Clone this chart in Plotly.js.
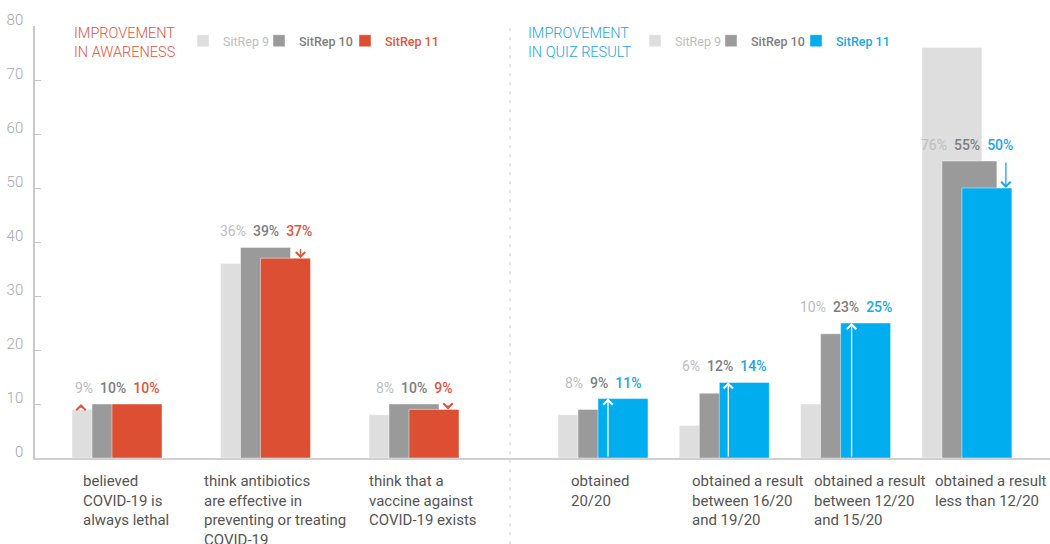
<!DOCTYPE html>
<html>
<head>
<meta charset="utf-8">
<script src="https://cdn.plot.ly/plotly-3.0.1.min.js"></script>
<style>
  html, body { margin: 0; padding: 0; background: #ffffff; }
  #chart { width: 1050px; height: 544px; }
</style>
</head>
<body>
<div id="chart"></div>
<script>
// ---------- DATA ----------
const awarenessCategories = [
  'believed<br>COVID-19 is<br>always lethal',
  'think antibiotics<br>are effective in<br>preventing or treating<br>COVID-19',
  'think that a<br>vaccine against<br>COVID-19 exists'
];
const awarenessSitRep9  = [9, 36, 8];
const awarenessSitRep10 = [10, 39, 10];
const awarenessSitRep11 = [10, 37, 9];

const quizCategories = [
  'obtained<br>20/20',
  'obtained a result<br>between 16/20<br>and 19/20',
  'obtained a result<br>between 12/20<br>and 15/20',
  'obtained a result<br>less than 12/20'
];
const quizSitRep9  = [8, 6, 10, 76];
const quizSitRep10 = [9, 12, 23, 55];
const quizSitRep11 = [11, 14, 25, 50];

const seriesNames = ['SitRep 9', 'SitRep 10', 'SitRep 11'];
const panelTitles = ['IMPROVEMENT<br>IN AWARENESS', 'IMPROVEMENT<br>IN QUIZ RESULT'];
const yTickValues = [0, 10, 20, 30, 40, 50, 60, 70, 80];

// change arrows: which value each arrow starts from ('s9', 's10' or 'zero'), ends at SitRep 11
const awarenessArrowFrom = ['s9', 's10', 's10'];
const quizArrowFrom = ['zero', 'zero', 'zero', 's10'];

// ---------- STYLE ----------
const FONT = "Roboto, 'Liberation Sans', sans-serif";
const C_LIGHT = '#dedede';
const C_MID = '#9a9a9a';
const C_RED = '#dc4f33';
const C_BLUE = '#00aeef';
const T_LIGHT = '#bdbdbd';
const T_MID = '#7e7e7e';
const T_RED = '#e0553b';
const T_BLUE = '#1aa7e6';

const leftUnit = 148.5;   // px per category (left panel)
const rightUnit = 121.3;  // px per category (right panel)

// legend square left edges (px) for each panel's three entries
const legendSquaresLeft = [198, 274, 360];
const legendSquaresRight = [650, 726, 811];

function barTraces(cats, s9, s10, s11, xa, unit, mainColor, mainText, legendIds, widths) {
  const names = [
    '<span style="color:' + T_LIGHT + '">' + seriesNames[0] + '</span>',
    '<span style="color:' + T_MID + ';font-weight:500">' + seriesNames[1] + '</span>',
    '<span style="color:' + mainText + ';font-weight:500">' + seriesNames[2] + '</span>'
  ];
  const vals = [s9, s10, s11];
  const cols = [C_LIGHT, C_MID, mainColor];
  const starts = [-45, -25, -5];
  return vals.map((v, i) => ({
    type: 'bar',
    x: cats,
    y: v,
    name: names[i],
    xaxis: xa,
    yaxis: 'y',
    legend: legendIds[i],
    width: widths[i] / unit,
    offset: starts[i] / unit,
    marker: { color: cols[i], line: { color: 'rgba(255,255,255,0.45)', width: 1 } },
    hoverinfo: 'x+y',
    showlegend: true
  }));
}

const traces = []
  .concat(barTraces(awarenessCategories, awarenessSitRep9, awarenessSitRep10, awarenessSitRep11,
                    'x', leftUnit, C_RED, T_RED, ['legend', 'legend2', 'legend3'], [50, 50, 50]))
  .concat(barTraces(quizCategories, quizSitRep9, quizSitRep10, quizSitRep11,
                    'x2', rightUnit, C_BLUE, T_BLUE, ['legend4', 'legend5', 'legend6'], [60, 55, 50]));

const annotations = [];

function valueLabels(cats, s9, s10, s11, xref, mainText) {
  cats.forEach((c, i) => {
    annotations.push({
      xref: xref, yref: 'y', x: c, y: Math.max(s10[i], s11[i]),
      xanchor: 'center', yanchor: 'bottom', yshift: 6, showarrow: false,
      text: '<span style="color:' + T_LIGHT + '">' + s9[i] + '%</span> &nbsp;' +
            '<span style="color:' + T_MID + ';font-weight:500">' + s10[i] + '%</span> &nbsp;' +
            '<span style="color:' + mainText + ';font-weight:500">' + s11[i] + '%</span>',
      font: { family: FONT, size: 14 }
    });
  });
}
valueLabels(awarenessCategories, awarenessSitRep9, awarenessSitRep10, awarenessSitRep11, 'x', T_RED);
valueLabels(quizCategories, quizSitRep9, quizSitRep10, quizSitRep11, 'x2', T_BLUE);

function categoryLabels(cats, xref, anchor, shift) {
  cats.forEach(c => {
    annotations.push({
      xref: xref, yref: 'y', x: c, y: 0,
      xanchor: anchor, yanchor: 'top', align: 'left', yshift: -12, xshift: shift,
      showarrow: false, text: c,
      font: { family: FONT, size: 15, color: '#555555' }
    });
  });
}
categoryLabels(awarenessCategories, 'x', 'center', 9);
categoryLabels(quizCategories, 'x2', 'left', -34);

function arrows(from, s9, s10, s11, xref, dxPx, unit, colors) {
  from.forEach((f, i) => {
    const start = f === 's9' ? s9[i] : (f === 's10' ? s10[i] : 0);
    annotations.push({
      xref: xref, yref: 'y', axref: xref, ayref: 'y',
      x: i + dxPx[i] / unit, y: s11[i],
      ax: i + dxPx[i] / unit, ay: start,
      text: '', showarrow: true, arrowhead: 4, arrowsize: 1.4, arrowwidth: 1.3,
      arrowcolor: colors[i], standoff: 0, startstandoff: 0
    });
  });
}
arrows(awarenessArrowFrom, awarenessSitRep9, awarenessSitRep10, awarenessSitRep11, 'x',
       [-36, 35, 34], leftUnit, [T_RED, T_RED, T_RED]);
arrows(quizArrowFrom, quizSitRep9, quizSitRep10, quizSitRep11, 'x2',
       [5, 4, 6, 39], rightUnit, ['#ffffff', '#ffffff', '#ffffff', T_BLUE]);

// panel titles
annotations.push({
  xref: 'paper', yref: 'paper', x: (72 - 35) / 1015, y: 1.008, xanchor: 'left', yanchor: 'top',
  align: 'left', showarrow: false, text: panelTitles[0],
  font: { family: FONT, size: 14.5, color: T_RED, weight: 300 }
});
annotations.push({
  xref: 'paper', yref: 'paper', x: (526 - 35) / 1015, y: 1.008, xanchor: 'left', yanchor: 'top',
  align: 'left', showarrow: false, text: panelTitles[1],
  font: { family: FONT, size: 14.5, color: T_BLUE, weight: 300 }
});

const split = (510 - 35) / 1015;

function legendAt(px) {
  return {
    orientation: 'h', x: (px - 15 - 35) / 1015, xanchor: 'left', y: 0.965, yanchor: 'middle',
    font: { family: FONT, size: 12.5 }, bgcolor: 'rgba(0,0,0,0)',
    itemclick: false, itemdoubleclick: false
  };
}

const layout = {
  width: 1050, height: 544,
  margin: { l: 35, r: 0, t: 26, b: 86, pad: 0 },
  paper_bgcolor: '#ffffff', plot_bgcolor: '#ffffff',
  font: { family: FONT, size: 14, color: '#555555' },
  barmode: 'overlay',
  showlegend: true,
  xaxis: {
    type: 'category', domain: [0, split], anchor: 'y',
    categoryorder: 'array', categoryarray: awarenessCategories,
    range: [(35 - 117) / leftUnit, (510 - 117) / leftUnit],
    showticklabels: false, ticks: '', showgrid: false, zeroline: false,
    showline: true, linecolor: '#d0d0d0', linewidth: 2, fixedrange: true
  },
  xaxis2: {
    type: 'category', domain: [split, 1], anchor: 'y',
    categoryorder: 'array', categoryarray: quizCategories,
    range: [(510 - 603) / rightUnit, (1050 - 603) / rightUnit],
    showticklabels: false, ticks: '', showgrid: false, zeroline: false,
    showline: true, linecolor: '#d0d0d0', linewidth: 2, fixedrange: true
  },
  yaxis: {
    range: [0, 80], tickvals: yTickValues, ticktext: yTickValues.map(String),
    ticks: 'inside', ticklen: 6, tickcolor: '#c8c8c8', tickwidth: 1,
    showline: true, linecolor: '#c8c8c8', linewidth: 1.5,
    showgrid: false, zeroline: false, fixedrange: true,
    tickfont: { family: FONT, size: 15, color: '#a8a8a8', weight: 300 },
    ticklabelstandoff: 7, ticklabelshift: -6
  },
  legend: legendAt(legendSquaresLeft[0]),
  legend2: legendAt(legendSquaresLeft[1]),
  legend3: legendAt(legendSquaresLeft[2]),
  legend4: legendAt(legendSquaresRight[0]),
  legend5: legendAt(legendSquaresRight[1]),
  legend6: legendAt(legendSquaresRight[2]),
  shapes: [{
    type: 'line', xref: 'paper', yref: 'paper', x0: split, x1: split,
    y0: 0.995, y1: -0.2, line: { color: '#cfcfcf', width: 1, dash: '3px,6px' }
  }],
  annotations: annotations
};

Plotly.newPlot('chart', traces, layout, { displayModeBar: false, responsive: false });
</script>
</body>
</html>
